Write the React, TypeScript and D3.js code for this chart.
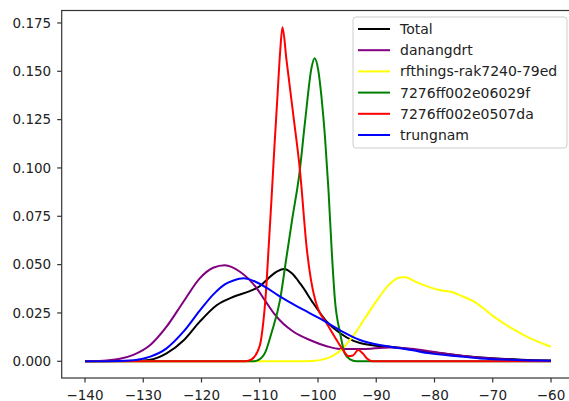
import React from "react";
import * as d3 from "d3";

// density curves, [rssi, density]
const totalPts: [number, number][] = [
  [-140, 0], [-132, 0.0002], [-129, 0.0007], [-126, 0.0041], [-123, 0.011], [-120.3, 0.0205],
  [-117.4, 0.029], [-114.5, 0.0334], [-111.7, 0.0363], [-110, 0.0388], [-108.5, 0.043],
  [-107, 0.0465], [-105.8, 0.0477], [-104.5, 0.0455], [-103, 0.04], [-100.8, 0.03],
  [-98.5, 0.0205], [-96.2, 0.0145], [-93.9, 0.0106], [-91, 0.0084], [-87.6, 0.0075],
  [-84, 0.0062], [-80, 0.0045], [-75, 0.0028], [-70, 0.0016], [-65, 0.0008], [-60, 0.0004],
];
const danangPts: [number, number][] = [
  [-140, 0], [-137, 0.0003], [-134, 0.0013], [-131.7, 0.0033], [-128.8, 0.0084], [-126, 0.0179],
  [-123.1, 0.0308], [-120.3, 0.0429], [-118, 0.0484], [-116, 0.0497], [-113.4, 0.0463],
  [-110.5, 0.0377], [-109, 0.031], [-107.5, 0.0245], [-106, 0.0195], [-104.2, 0.0153],
  [-101.4, 0.011], [-98.5, 0.0078], [-96.2, 0.0064], [-92.8, 0.0063], [-87.6, 0.0072],
  [-84, 0.0065], [-80, 0.0048], [-75, 0.0028], [-70, 0.0014], [-65, 0.0006], [-60, 0.0003],
];
const rfthingsPts: [number, number][] = [
  [-140, 0], [-104, 0], [-101, 0.0002], [-98.5, 0.0015], [-96, 0.006], [-94, 0.013],
  [-92, 0.022], [-90, 0.031], [-88, 0.039], [-86, 0.0433], [-85, 0.0435], [-83.5, 0.0415],
  [-81, 0.0385], [-79, 0.0367], [-77, 0.0358], [-75.5, 0.034], [-73, 0.0305], [-70, 0.0235],
  [-67, 0.0175], [-64, 0.0125], [-60, 0.0075],
];
const gw06029fPts: [number, number][] = [
  [-140, 0], [-111, 0], [-110.2, 0.0007], [-109, 0.005], [-108, 0.0145], [-106.5, 0.032],
  [-105.5, 0.052], [-104.4, 0.074], [-103.2, 0.097], [-102.2, 0.1246],
  [-101.1, 0.152], [-100.6, 0.1568], [-99.95, 0.1505], [-99.4, 0.1367], [-98.8, 0.116],
  [-98.2, 0.0885], [-97.65, 0.0575], [-97.1, 0.032], [-96.2, 0.0145], [-95.4, 0.004],
  [-94.5, 0.001], [-93.4, 0], [-60, 0],
];
const gw0507daPts: [number, number][] = [
  [-140, 0], [-112.5, 0], [-111.4, 0.001], [-110, 0.008], [-109.4, 0.02], [-109, 0.033],
  [-108.5, 0.0575], [-108, 0.083], [-107.5, 0.11], [-107, 0.135], [-106.5, 0.16],
  [-106.1, 0.1728], [-105.4, 0.1556], [-104.2, 0.1264], [-103.1, 0.0988], [-101.9, 0.0575],
  [-101.2, 0.042], [-100.5, 0.032], [-99.9, 0.0265], [-98.5, 0.0196], [-96.8, 0.011],
  [-95.7, 0.0058], [-94.8, 0.0027], [-94, 0.003], [-93.1, 0.0058], [-92.3, 0.004],
  [-91.6, 0.0015], [-90.5, 0], [-60, 0],
];
const trungnamPts: [number, number][] = [
  [-140, 0], [-134, 0.0002], [-131, 0.0008], [-128.8, 0.0024], [-126, 0.0067], [-123.1, 0.0153],
  [-120.3, 0.0262], [-118, 0.0345], [-116, 0.0398], [-114.5, 0.0418], [-112.8, 0.0429],
  [-111, 0.0415], [-108.2, 0.0368], [-106.5, 0.0334], [-103.1, 0.0276], [-99.7, 0.0222],
  [-96.2, 0.016], [-92.8, 0.011], [-89.4, 0.0084], [-87.6, 0.0075], [-84, 0.0058],
  [-80.8, 0.0041], [-76, 0.0026], [-72.2, 0.0015], [-66, 0.0007], [-60, 0.0003],
];

const seriesNames = ["Total", "danangdrt", "rfthings-rak7240-79ed", "7276ff002e06029f", "7276ff002e0507da", "trungnam"];
const seriesPts = [totalPts, danangPts, rfthingsPts, gw06029fPts, gw0507daPts, trungnamPts];
const seriesColors = ["#000000", "#800080", "#ffff00", "#008000", "#ff0000", "#0000ff"];

const xTicks = [-140, -130, -120, -110, -100, -90, -80, -70, -60];
const yTicks = [0, 0.025, 0.05, 0.075, 0.1, 0.125, 0.15, 0.175];

const W = 569;
const H = 401;
const left = 61.7, right = 574.3, top = 10.5, bottom = 378;

const App = () => {
  const yMax = d3.max(seriesPts.flat(), (p) => p[1]) as number;
  const pad = yMax * 0.05;

  const x = d3.scaleLinear().domain([-144, -56]).range([left, right]);
  const y = d3.scaleLinear().domain([-pad, yMax + pad]).range([bottom, top]);

  const line = d3
    .line<[number, number]>()
    .x((d) => x(d[0]))
    .y((d) => y(d[1]))
    .curve(d3.curveMonotoneX);

  const fmtY = d3.format(".3f");
  const fmtX = (v: number) => String(v).replace("-", "\u2212");
  const font = "'DejaVu Sans', sans-serif";

  return (
    <svg width={W} height={H} style={{ position: "absolute", left: 0, top: 0, background: "#fff" }}>
      <defs>
        <clipPath id="plot">
          <rect x={left} y={top} width={right - left} height={bottom - top} />
        </clipPath>
      </defs>

      <g clipPath="url(#plot)">
        {seriesPts.map((pts, i) => (
          <path key={i} d={line(pts) || ""} fill="none" stroke={seriesColors[i]} strokeWidth={2} />
        ))}
      </g>

      {/* frame */}
      <rect x={left} y={top} width={right - left} height={bottom - top} fill="none" stroke="#333" strokeWidth={1.2} />

      {/* y axis */}
      {yTicks.map((t) => (
        <g key={t} transform={`translate(0,${y(t)})`}>
          <line x1={left - 4.5} x2={left} stroke="#333" strokeWidth={1.2} />
          <text x={left - 10.5} dy="0.35em" textAnchor="end" fontFamily={font} fontSize={13.5} fill="#222">
            {fmtY(t)}
          </text>
        </g>
      ))}

      {/* x axis */}
      {xTicks.map((t) => (
        <g key={t} transform={`translate(${x(t)},0)`}>
          <line y1={bottom} y2={bottom + 4.5} stroke="#333" strokeWidth={1.2} />
          <text y={399.5} textAnchor="middle" fontFamily={font} fontSize={13.5} fill="#222">
            {fmtX(t)}
          </text>
        </g>
      ))}

      {/* legend */}
      <g>
        <rect x={353} y={17} width={214} height={131} rx={3} fill="#fff" fillOpacity={0.8} stroke="#ccc" />
        {seriesNames.map((name, i) => {
          const ly = 29 + i * 21.2;
          return (
            <g key={name}>
              <line x1={358} x2={390} y1={ly} y2={ly} stroke={seriesColors[i]} strokeWidth={2} />
              <text x={400} y={ly} dy="0.35em" fontFamily={font} fontSize={14} fill="#222">
                {name}
              </text>
            </g>
          );
        })}
      </g>
    </svg>
  );
};

export default App;
